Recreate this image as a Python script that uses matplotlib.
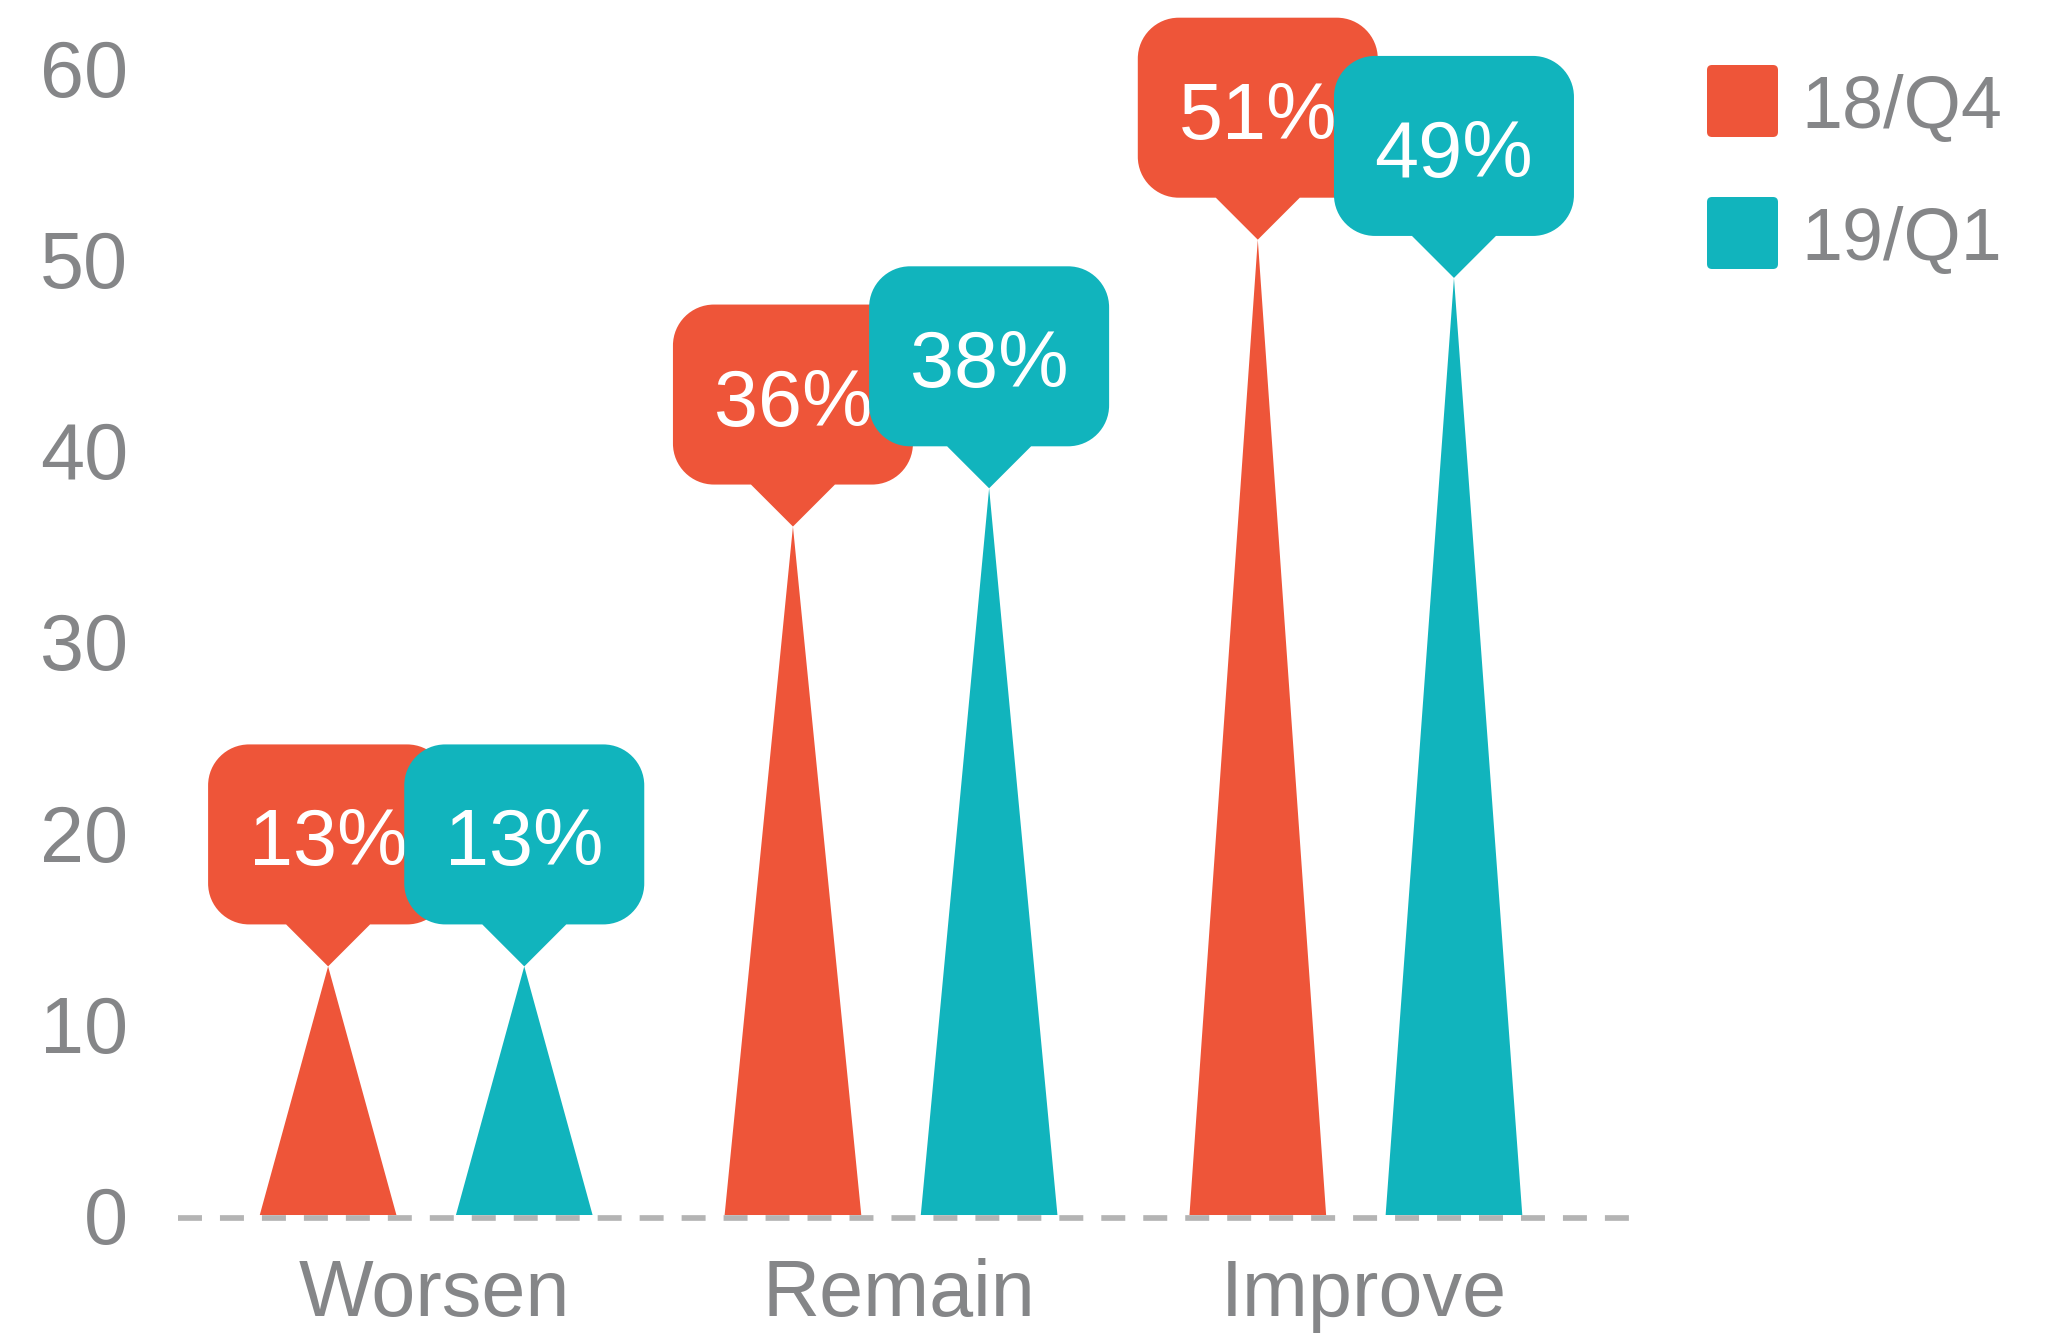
import matplotlib
matplotlib.use("Agg")
import matplotlib.pyplot as plt
import matplotlib.transforms as mtransforms
from matplotlib.patches import FancyBboxPatch, PathPatch
from matplotlib.path import Path
import numpy as np

# ---- data ----
categories = ["Worsen", "Remain", "Improve"]
series_names = ["18/Q4", "19/Q1"]
values_18q4 = [13, 36, 51]
values_19q1 = [13, 38, 49]
y_ticks = [0, 10, 20, 30, 40, 50, 60]

# ---- style ----
colors = ["#EE5539", "#11B4BD"]
text_gray = "#858688"
dash_gray = "#B4B4B4"
plt.rcParams['font.family'] = 'Liberation Sans'

DPI = 100
W_PX, H_PX = 2046, 1338
fig = plt.figure(figsize=(W_PX / DPI, H_PX / DPI), dpi=DPI)
ax = fig.add_axes([0.0872, 0.0919, 0.7100, 0.8576])
ax.set_xlim(-0.533, 2.592)
ax.set_ylim(0, 60)
for s in ax.spines.values():
    s.set_visible(False)

x = np.arange(len(categories))
offset = 0.211      # half distance between the two series within a group
width = 0.294       # triangle base width

series = [values_18q4, values_19q1]

# triangular "bars"
for i, (vals, col) in enumerate(zip(series, colors)):
    xs = x + (2 * i - 1) * offset
    for xc, v in zip(xs, vals):
        ax.fill([xc - width / 2, xc, xc + width / 2], [0, v, 0],
                color=col, lw=0, zorder=2 + 0.1 * i)

# dashed baseline, sitting just under the zero line
base_tr = mtransforms.offset_copy(ax.transData, fig=fig, x=0, y=-2.8, units='dots')
ax.plot(ax.get_xlim(), [0, 0], color=dash_gray, lw=4.1, dashes=(4.21, 3.16),
        solid_capstyle='butt', dash_capstyle='butt', transform=base_tr,
        zorder=3, clip_on=False)

# speech-bubble labels (geometry in pixels, anchored at the bar tip)
BOX_W, BOX_H = 240, 180
PTR_H, PTR_HW = 42, 42
RADIUS = 41
KAPPA = 0.5523


def bubble_path():
    a = BOX_W / 2
    b0, b1 = PTR_H, PTR_H + BOX_H
    r, k = RADIUS, KAPPA * RADIUS
    verts = [(0, 0), (PTR_HW, b0), (a - r, b0),
             (a - r + k, b0), (a, b0 + r - k), (a, b0 + r),
             (a, b1 - r),
             (a, b1 - r + k), (a - r + k, b1), (a - r, b1),
             (-a + r, b1),
             (-a + r - k, b1), (-a, b1 - r + k), (-a, b1 - r),
             (-a, b0 + r),
             (-a, b0 + r - k), (-a + r - k, b0), (-a + r, b0),
             (-PTR_HW, b0), (0, 0)]
    codes = [Path.MOVETO, Path.LINETO, Path.LINETO,
             Path.CURVE4, Path.CURVE4, Path.CURVE4,
             Path.LINETO,
             Path.CURVE4, Path.CURVE4, Path.CURVE4,
             Path.LINETO,
             Path.CURVE4, Path.CURVE4, Path.CURVE4,
             Path.LINETO,
             Path.CURVE4, Path.CURVE4, Path.CURVE4,
             Path.LINETO, Path.CLOSEPOLY]
    return Path(verts, codes)


BUBBLE = bubble_path()


def callout(xc, v, col, label, z):
    t = mtransforms.Affine2D() + mtransforms.ScaledTranslation(xc, v, ax.transData)
    ax.add_patch(PathPatch(BUBBLE, transform=t, facecolor=col, edgecolor='none',
                           clip_on=False, zorder=z))
    ax.annotate(label, xy=(xc, v), xytext=(0, 101), textcoords='offset pixels',
                ha='center', va='baseline', color='white', fontsize=57,
                zorder=z + 0.05, annotation_clip=False)


for i, (vals, col) in enumerate(zip(series, colors)):
    xs = x + (2 * i - 1) * offset
    for xc, v in zip(xs, vals):
        callout(xc, v, col, f"{v}%", 5 + i)

# axes ticks and labels
ax.set_yticks(y_ticks)
ax.set_xticks(x, categories)
ax.tick_params(axis='y', length=0, pad=36, labelsize=57, labelcolor=text_gray)
ax.tick_params(axis='x', length=0, pad=31, labelsize=57, labelcolor=text_gray)
shift = mtransforms.ScaledTranslation(8 / DPI, 0, fig.dpi_scale_trans)
for lbl in ax.get_xticklabels():
    lbl.set_transform(lbl.get_transform() + shift)

# legend: rounded squares with series names
pix = mtransforms.IdentityTransform()
for i, (name, col) in enumerate(zip(series_names, colors)):
    top = 65 + i * 132
    sq = FancyBboxPatch((1707, H_PX - top - 72), 71, 72,
                        boxstyle="round,pad=0,rounding_size=5",
                        transform=pix, facecolor=col, edgecolor='none')
    fig.add_artist(sq)
    fig.text(1801, H_PX - (128 + i * 132), name, transform=pix, fontsize=53,
             va='baseline', ha='left', color=text_gray)

fig.savefig("out.png", dpi=DPI)
